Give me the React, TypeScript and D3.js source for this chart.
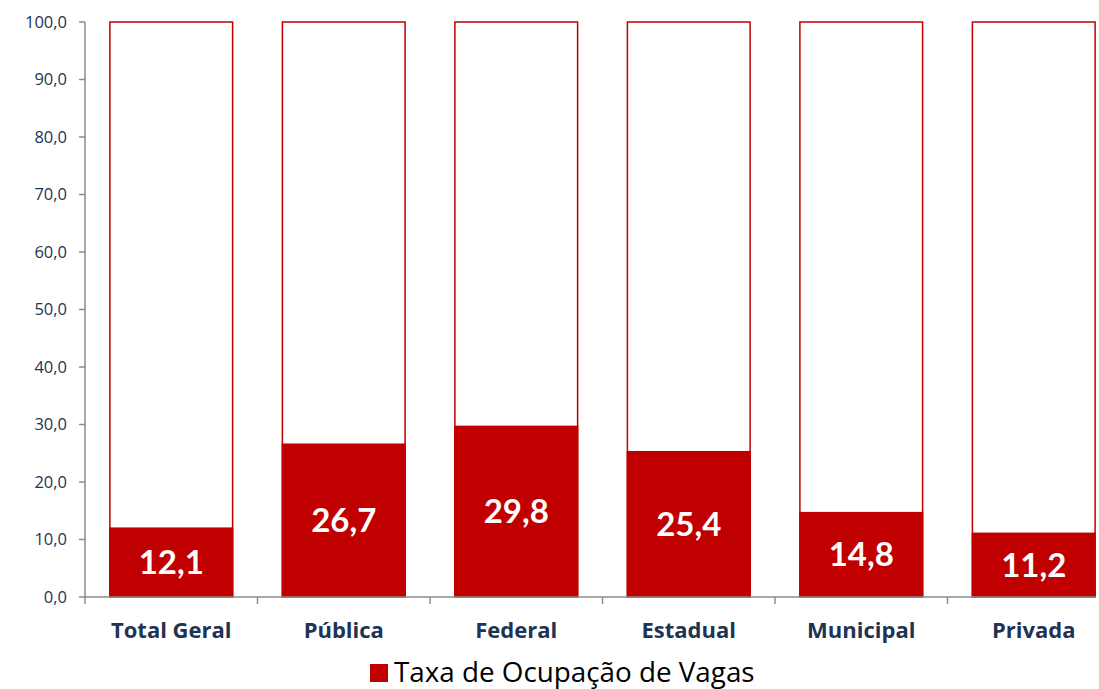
import React from "react";
import * as d3 from "d3";

const categories = ["Total Geral", "Pública", "Federal", "Estadual", "Municipal", "Privada"];
const values = [12.1, 26.7, 29.8, 25.4, 14.8, 11.2];
const yTicks = [0, 10, 20, 30, 40, 50, 60, 70, 80, 90, 100];
const legendLabel = "Taxa de Ocupação de Vagas";

const W = 1099;
const H = 689;
const RED = "#c00000";
const NAVY = "#1f3354";
const FONT = "Lato, 'Open Sans', sans-serif";
const FONT2 = "'Open Sans', Lato, sans-serif";
const fmt = (v: number) => v.toFixed(1).replace(".", ",");

export default function App() {
  const x = d3.scaleBand<string>().domain(categories).range([85, 1120]).paddingInner(0.28).paddingOuter(0.14);
  const y = d3.scaleLinear().domain([0, 100]).range([597, 22]);
  const bw = x.bandwidth();
  const bandStep = x.step();
  const lastEnd = (x(categories[categories.length - 1]) as number) + bw;

  return (
    <svg width={W} height={H} style={{ display: "block", position: "absolute", left: 0, top: 0, overflow: "hidden" }}>
      <rect width={W} height={H} fill="#fff" />
      {/* y axis */}
      <line x1={85} x2={85} y1={y(100)} y2={y(0)} stroke="#8c8c8c" strokeWidth={1.5} />
      {yTicks.map((t) => (
        <g key={t}>
          <line x1={79} x2={85} y1={y(t)} y2={y(t)} stroke="#8c8c8c" strokeWidth={1.5} />
          <text x={67} y={y(t)} dy="0.35em" textAnchor="end" fontFamily={FONT2} fontSize={16.5} fill={NAVY}>
            {fmt(t)}
          </text>
        </g>
      ))}
      {/* bars */}
      {categories.map((c, i) => {
        const bx = x(c) as number;
        return (
          <g key={c}>
            <rect x={bx + 0.75} y={y(100)} width={bw - 1.5} height={y(0) - y(100)} fill="#fff" stroke={RED} strokeWidth={1.5} />
            <rect x={bx} y={y(values[i])} width={bw} height={y(0) - y(values[i])} fill={RED} />
            <text
              x={bx + bw / 2}
              y={(y(values[i]) + y(0)) / 2}
              dy="0.36em"
              textAnchor="middle"
              fontFamily={FONT}
              fontWeight="bold"
              fontSize={33}
              fill="#fff"
            >
              {fmt(values[i])}
            </text>
          </g>
        );
      })}
      {/* x axis */}
      <line x1={85} x2={lastEnd} y1={y(0)} y2={y(0)} stroke="#8c8c8c" strokeWidth={1.5} />
      {categories.map((c, i) => (
        <line key={"t" + c} x1={85 + i * bandStep} x2={85 + i * bandStep} y1={y(0)} y2={y(0) + 7} stroke="#8c8c8c" strokeWidth={1.5} />
      ))}
      {categories.map((c) => (
        <text
          key={"l" + c}
          x={(x(c) as number) + bw / 2}
          y={638}
          textAnchor="middle"
          fontFamily={FONT2}
          fontWeight="bold"
          fontSize={22}
          fill={NAVY}
        >
          {c}
        </text>
      ))}
      {/* legend */}
      <rect x={370} y={664} width={18} height={18} fill={RED} />
      <text x={394} y={682} fontFamily={FONT2} fontSize={27.8} fill="#000">
        {legendLabel}
      </text>
    </svg>
  );
}
